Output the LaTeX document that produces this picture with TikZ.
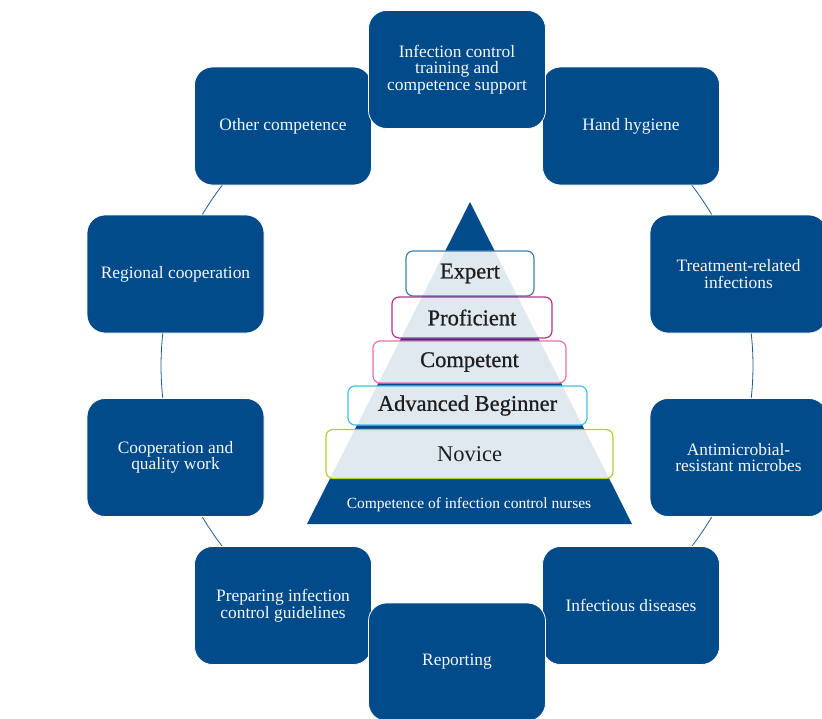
\documentclass[tikz,border=0pt]{standalone}
\usepackage{fontspec}
\setmainfont{Liberation Serif}
\usetikzlibrary{backgrounds}
\definecolor{boxblue}{RGB}{2,75,138}
\definecolor{ringblue}{RGB}{30,90,150}
\definecolor{expertc}{RGB}{62,127,176}
\definecolor{proficientc}{RGB}{176,55,143}
\definecolor{competentc}{RGB}{240,110,168}
\definecolor{advancedc}{RGB}{62,192,232}
\definecolor{novicec}{RGB}{181,207,42}
\begin{document}
\begin{tikzpicture}[x=1pt,y=-1pt,
  topic/.style={draw=white, line width=0.8pt, fill=boxblue, rounded corners=18pt,
    minimum width=177pt, minimum height=118pt, text=white!96!boxblue, align=center,
    font=\fontsize{17.4}{16.6}\selectfont, inner sep=2pt},
  ring/.style={draw=ringblue, line width=0.8pt},
  level/.style={fill=white, fill opacity=0.88, text opacity=1, line width=1.2pt,
    rounded corners=7pt, align=center, font=\fontsize{22.5}{22.5}\selectfont,
    text=black!88, inner sep=0pt},
  heavy/.style={font=\fontsize{22.5}{22.5}\selectfont\addfontfeature{FakeBold=0.8}},
  pyr/.style={fill=boxblue}
]
\useasboundingbox (0,0) rectangle (822,718);
\clip (0,0) rectangle (822,718);

% topic boxes
\node[topic] (t1) at (631,126) {Hand hygiene};
\node[topic] (t2) at (738.5,274) {Treatment-related\\infections};
\node[topic] (t3) at (738.5,457.5) {Antimicrobial-\\resistant microbes};
\node[topic] (t4) at (631,605.5) {Infectious diseases};
\node[topic] (t6) at (283,605.5) {Preparing infection\\control guidelines};
\node[topic] (t5) at (457,662) {Reporting};
\node[topic] (t7) at (175.5,457.5) {Cooperation and\\quality work};
\node[topic] (t8) at (175.5,274) {Regional cooperation};
\node[topic] (t9) at (283,126) {Other competence};
\node[topic] (t0) at (457,69.5) {Infection control\\training and\\competence support};

% ring
\begin{pgfonlayer}{background}
\foreach \a/\b in {t0/t1,t1/t2,t2/t3,t3/t4,t4/t5,t5/t6,t6/t7,t7/t8,t8/t9,t9/t0}
  \draw[ring] (\a.center) to[bend left=18, looseness=0.873] (\b.center);
\end{pgfonlayer}

% pyramid
\coordinate (apex) at (470,202);
\coordinate (bl) at (307,524);
\coordinate (br) at (632,524);
\fill[pyr] (apex) -- (br) -- (bl) -- cycle;

\node[level, heavy, draw=expertc, minimum width=128pt, minimum height=45pt] (expert) at (470,273.5) {Expert};
\node[level, heavy, draw=proficientc, minimum width=160pt, minimum height=41pt] (proficient) at (472,317.5) {Proficient};
\node[level, heavy, draw=competentc, minimum width=193pt, minimum height=42pt] (competent) at (469.5,362) {Competent};
\node[level, heavy, draw=advancedc, minimum width=239pt, minimum height=39pt] (advanced) at (467.5,405.5) {Advanced Beginner};
\node[level, draw=novicec, minimum width=287pt, minimum height=49pt] (novice) at (469.5,454) {Novice};

\node[text=white, font=\fontsize{15.5}{15.5}\selectfont] (base) at (469,504.5) {Competence of infection control nurses};
\end{tikzpicture}
\end{document}
